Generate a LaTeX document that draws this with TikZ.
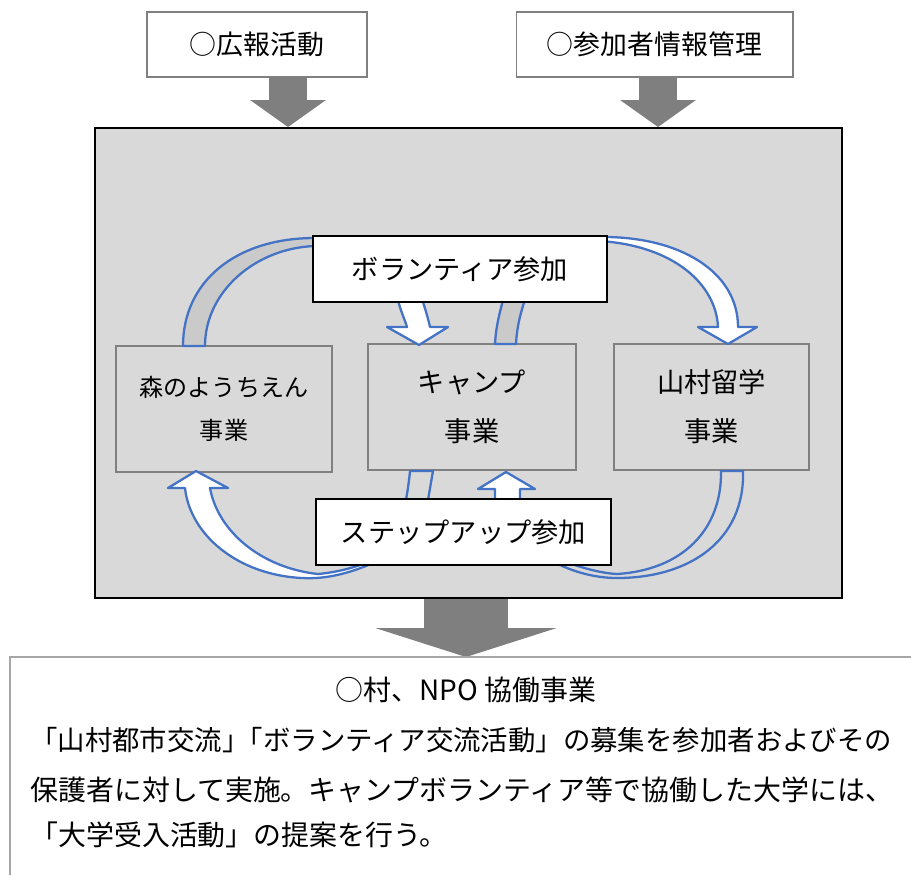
\documentclass[tikz,border=0pt]{standalone}
\usepackage{fontspec}
\setmainfont{Noto Sans CJK JP}
\usepackage{tikz}
\usetikzlibrary{arrows.meta}
\definecolor{bggray}{HTML}{D9D9D9}
\definecolor{backgray}{HTML}{CACACA}
\definecolor{arrowblue}{HTML}{4472C4}
\definecolor{boxgray}{HTML}{808080}
\definecolor{fatgray}{HTML}{7F7F7F}
\definecolor{lightline}{HTML}{A6A6A6}

\begin{document}
\begin{tikzpicture}[x=0.02cm,y=-0.02cm,
  every node/.style={inner sep=0pt},
  topbox/.style={draw=boxgray,line width=0.6pt,fill=white,minimum height=1.3cm,font=\fontsize{15.3}{18}\selectfont},
  labelbox/.style={draw=black,line width=0.7pt,fill=white,minimum height=1.32cm,font=\fontsize{15.5}{18}\selectfont},
  jigyou/.style={draw=boxgray,line width=1.3pt,fill=bggray,minimum height=2.52cm,align=center},
  band/.style={draw=arrowblue,line width=1.3pt,line join=round},
  fatarrow/.style={draw=fatgray,line width=22.1pt,-{Triangle[width=43pt,length=15.3pt,line width=0pt]}},
  body/.style={anchor=west,font=\fontsize{15.9}{18}\selectfont}]
\useasboundingbox (0,0) rectangle (911,875);

% top boxes
\node (kouhou)[topbox,minimum width=4.4cm] at (257,44.5) {○広報活動};
\node (kanri)[topbox,minimum width=5.54cm] at (654.5,44.5) {○参加者情報管理};

% frame
\node (waku)[draw=black,line width=1.2pt,fill=bggray,minimum width=14.94cm,minimum height=9.4cm] at (468.5,363) {};

\coordinate (k1) at (288,77);
\coordinate (k2) at (288,127);
\coordinate (s1) at (658,77);
\coordinate (s2) at (658,127);
\draw[fatarrow] (k1) -- (k2);
\draw[fatarrow] (s1) -- (s2);

% business boxes
\node (mori)[jigyou,minimum width=4.32cm,font=\fontsize{13.7}{24.4}\selectfont] at (224,409) {森のようちえん\\事業};
\node (camp)[jigyou,minimum width=4.16cm,font=\fontsize{15.5}{27.8}\selectfont] at (472,407) {キャンプ\\事業};
\node (sanson)[jigyou,minimum width=3.9cm,font=\fontsize{15.5}{27.8}\selectfont] at (711.5,407) {山村留学\\事業};

% curved arrows (top)
\draw[band,fill=backgray] (183,346) .. controls (183,282) and (235,238) .. (315,238)
  -- (315,246) .. controls (255,248) and (205,292) .. (205,346) -- cycle;
\draw[band,fill=white] (397,296) .. controls (400,310) and (405,320) .. (407,327)
  -- (387,327) -- (419,345) -- (448,327) -- (430,327)
  .. controls (428,318) and (425,308) .. (421,296) -- cycle;
\draw[band,fill=backgray] (495,344) .. controls (496,325) and (500,312) .. (504,296)
  -- (526,296) .. controls (521,312) and (517,325) .. (516,344) -- cycle;
\draw[band,fill=white] (600,237) .. controls (680,236) and (738,272) .. (738,327)
  -- (757,327) -- (728,344) -- (698,327) -- (718,327)
  .. controls (716,285) and (675,246) .. (600,241) -- cycle;

% curved arrows (bottom)
\draw[band,fill=bggray] (410,471) .. controls (409,482) and (407,495) .. (405,505)
  -- (427,505) .. controls (429,495) and (431,482) .. (433,471) -- cycle;
\draw[band,fill=white] (380,560) .. controls (345,576) and (322,579) .. (302,578)
  .. controls (238,575) and (190,535) .. (185,488) -- (168,488) -- (196,471) -- (228,488) -- (210,488)
  .. controls (218,532) and (262,568) .. (318,574) .. controls (340,572) and (362,566) .. (380,556) -- cycle;
\draw[band,fill=bggray] (743,471) .. controls (745,540) and (690,578) .. (617,578)
  .. controls (595,578) and (572,572) .. (550,560) -- (550,556)
  .. controls (575,566) and (598,573) .. (617,574) .. controls (682,570) and (722,530) .. (721,471) -- cycle;
\draw[band,fill=white] (495,505) -- (495,489) -- (478,489) -- (506,472) -- (535,489) -- (520,489) -- (520,505) -- cycle;

% label boxes
\node (volunteer)[labelbox,minimum width=5.88cm] at (460,269) {ボランティア参加};
\node (stepup)[labelbox,minimum width=5.9cm] at (463.5,532) {ステップアップ参加};

% bottom box
\coordinate (w1) at (466,599);
\coordinate (w2) at (466,657);
\draw[fatarrow,line width=48.2pt,-{Triangle[width=102.6pt,length=16.4pt,line width=0pt]}] (w1) -- (w2);
\draw[lightline,line width=0.8pt] (911,657) -- (10,657) -- (10,875);
\node (title)[font=\fontsize{15.9}{18}\selectfont] at (466,690) {○村、NPO 協働事業};
\node (line1)[body,font=\fontsize{15.6}{18}\selectfont] at (30,740) {「山村都市交流」\kern-0.5em「ボランティア交流活動」の募集を参加者およびその};
\node (line2)[body] at (30,790) {保護者に対して実施。キャンプボランティア等で協働した大学には、};
\node (line3)[body] at (30,835) {「大学受入活動」の提案を行う。};
\end{tikzpicture}
\end{document}
